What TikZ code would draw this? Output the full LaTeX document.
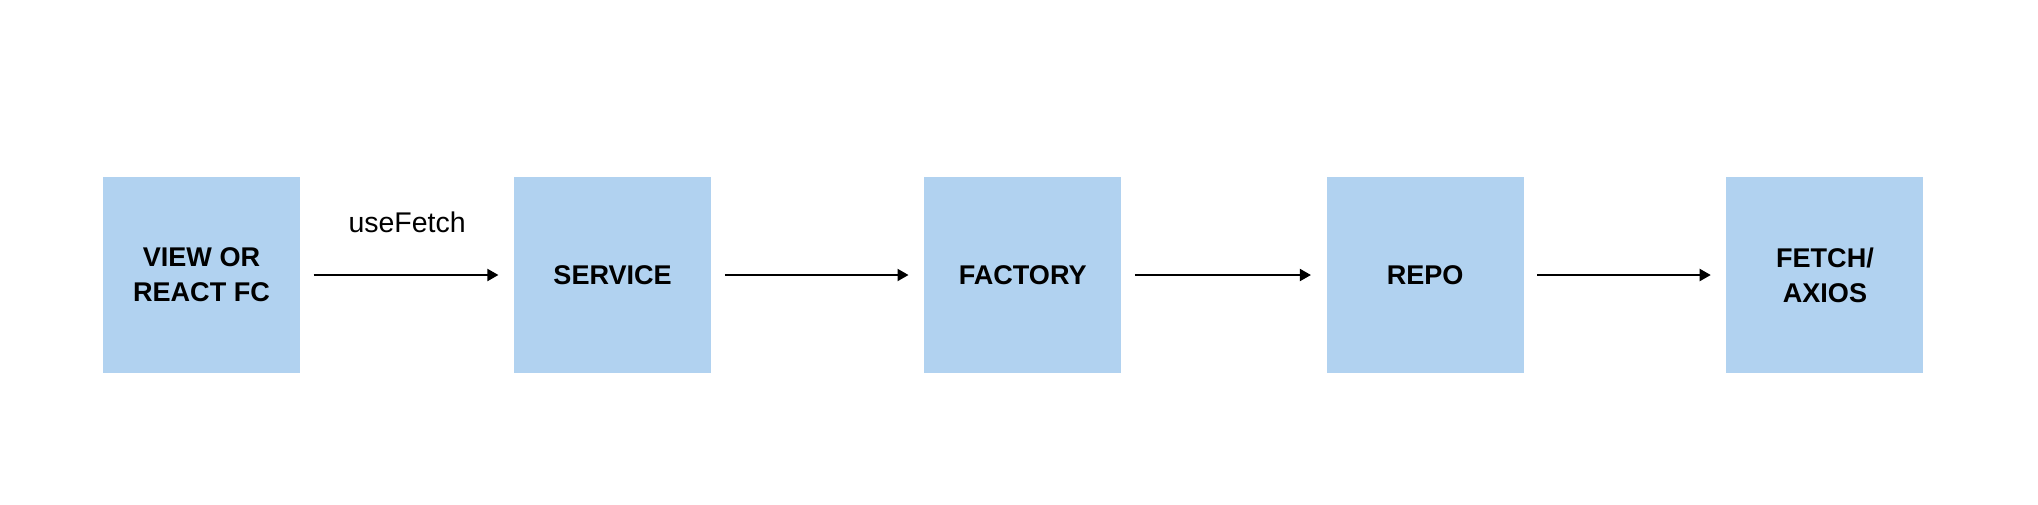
\documentclass[tikz,border=0pt]{standalone}
\usepackage{fontspec}
\setmainfont{Liberation Sans}
\usepackage{tikz}
\usetikzlibrary{positioning, arrows.meta}
\definecolor{boxblue}{RGB}{177,210,240}

\begin{document}
\begin{tikzpicture}[
		layer/.style={fill=boxblue, minimum width=1.97cm, minimum height=1.96cm, inner sep=0pt,
			align=center, font=\bfseries\fontsize{7.7}{9.96}\selectfont},
		flow/.style={-{Triangle[length=0.11cm, width=0.12cm]}, line width=0.55pt,
			shorten <=0.13cm, shorten >=0.15cm}
	]
		\useasboundingbox (0, 0) rectangle (20.38, 5.04);
		
		% Layers
		\node[layer] (view) at (2.015, 2.29) {VIEW OR\\REACT FC};
		\node[layer, right=2.127cm of view] (service) {SERVICE};
		\node[layer, right=2.117cm of service] (factory) {FACTORY};
		\node[layer, right=2.04cm of factory] (repo) {REPO};
		\node[layer, right=2.014cm of repo] (fetch) {FETCH/\\AXIOS};
		
		% Calls between layers
		\draw[flow] (view) -- (service)
		node[midway, yshift=0.53cm, font=\fontsize{8.1}{9.5}\selectfont] (hook) {useFetch};
		\draw[flow] (service) -- (factory);
		\draw[flow] (factory) -- (repo);
		\draw[flow] (repo) -- (fetch);
	\end{tikzpicture}
\end{document}
